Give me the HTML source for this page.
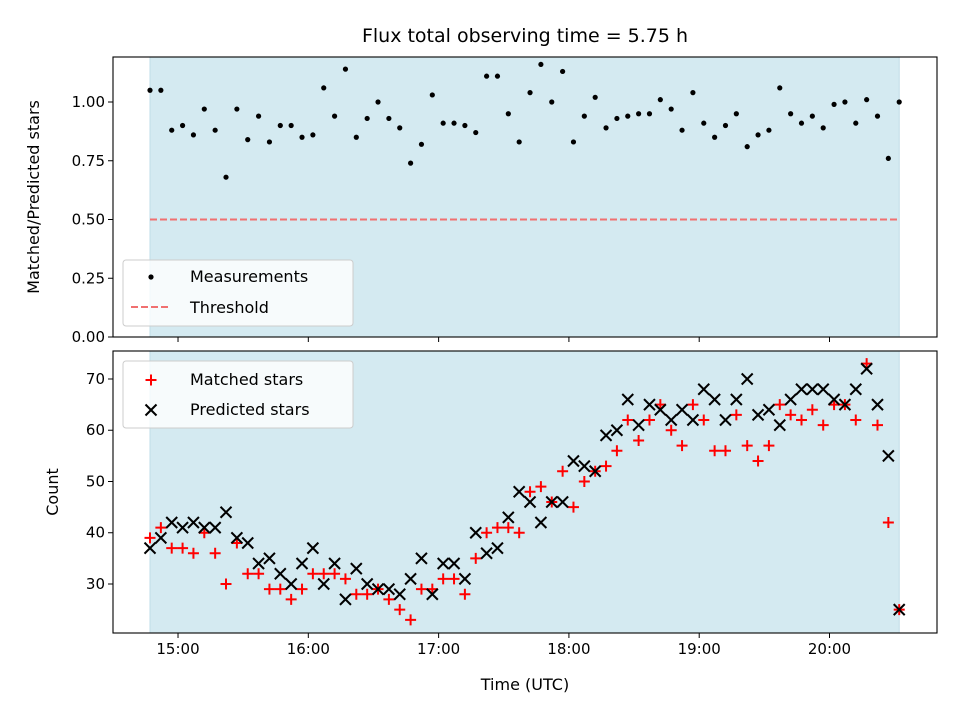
<!DOCTYPE html>
<html><head><meta charset="utf-8"><style>
body{margin:0;background:#fff}
svg{display:block;font-family:"DejaVu Sans","Liberation Sans",sans-serif}
</style></head><body>
<svg id="chart" width="960" height="720" viewBox="0 0 960 720"></svg>
<script>
const startHour = 14.785;
const stepHours = 5.75 / 69;
const ratioValues = [1.05,1.05,0.88,0.90,0.86,0.97,0.88,0.68,0.97,0.84,0.94,0.83,0.90,0.90,0.85,0.86,1.06,0.94,1.14,0.85,0.93,1.00,0.93,0.89,0.74,0.82,1.03,0.91,0.91,0.90,0.87,1.11,1.11,0.95,0.83,1.04,1.16,1.00,1.13,0.83,0.94,1.02,0.89,0.93,0.94,0.95,0.95,1.01,0.97,0.88,1.04,0.91,0.85,0.90,0.95,0.81,0.86,0.88,1.06,0.95,0.91,0.94,0.89,0.99,1.00,0.91,1.01,0.94,0.76,1.00];
const matchedValues = [39,41,37,37,36,40,36,30,38,32,32,29,29,27,29,32,32,32,31,28,28,29,27,25,23,29,29,31,31,28,35,40,41,41,40,48,49,46,52,45,50,52,53,56,62,58,62,65,60,57,65,62,56,56,63,57,54,57,65,63,62,64,61,65,65,62,73,61,42,25];
const predictedValues = [37,39,42,41,42,41,41,44,39,38,34,35,32,30,34,37,30,34,27,33,30,29,29,28,31,35,28,34,34,31,40,36,37,43,48,46,42,46,46,54,53,52,59,60,66,61,65,64,62,64,62,68,66,62,66,70,63,64,61,66,68,68,68,66,65,68,72,65,55,25];
const thresholdValue = 0.5;
const xTickLabels = ["15:00","16:00","17:00","18:00","19:00","20:00"];
const xTickHours = [15,16,17,18,19,20];
const topYTicks = [0,0.25,0.5,0.75,1.0];
const topYTickLabels = ["0.00","0.25","0.50","0.75","1.00"];
const botYTicks = [30,40,50,60,70];

const NS="http://www.w3.org/2000/svg";
const svg=document.getElementById('chart');
function mk(tag,attrs,parent){const e=document.createElementNS(NS,tag);for(const k in attrs)e.setAttribute(k,attrs[k]);(parent||svg).appendChild(e);return e;}
const L=113,R=937, TT=57,TB=337, BT=351,BB=633;
const xMin=14.501,xMax=20.825;
const x=h=>L+(h-xMin)/(xMax-xMin)*(R-L);
const yTop=v=>TB-(v-0)/(1.1915-0)*(TB-TT);
const yBot=v=>BB-(v-20.44)/(75.46-20.44)*(BB-BT);
const tHour=i=>startHour+i*stepHours;
const tEnd=startHour+69*stepHours;

let t=mk('text',{x:525,y:42,'text-anchor':'middle','font-size':'19'});t.textContent='Flux total observing time = 5.75 h';


function panel(top,bot,name){
  const g=mk('g',{});
  
  const s=mk('rect',{x:x(startHour),y:top,width:x(tEnd)-x(startHour),height:bot-top,fill:'#d4eaf1',stroke:'#bfdde8','stroke-width':1},g);
  
  return g;
}
const gTop=panel(TT,TB,'ratio-panel');
const gBot=panel(BT,BB,'count-panel');

const th=mk('line',{x1:x(startHour),x2:x(tEnd),y1:yTop(thresholdValue),y2:yTop(thresholdValue),stroke:'#f07070','stroke-width':2,'stroke-dasharray':'7,3'},gTop);

ratioValues.forEach((v,i)=>{const c=mk('circle',{cx:x(tHour(i)),cy:yTop(v),r:2.6,fill:'#000'},gTop);
});
function plus(cx,cy,p,name){const g=mk('g',{stroke:'#ff0000','stroke-width':2},p);

mk('line',{x1:cx-5.5,x2:cx+5.5,y1:cy,y2:cy},g);mk('line',{x1:cx,x2:cx,y1:cy-5.5,y2:cy+5.5},g);}
function cross(cx,cy,p,name){const g=mk('g',{stroke:'#000','stroke-width':2},p);

mk('line',{x1:cx-5.5,x2:cx+5.5,y1:cy-5.5,y2:cy+5.5},g);mk('line',{x1:cx-5.5,x2:cx+5.5,y1:cy+5.5,y2:cy-5.5},g);}
matchedValues.forEach((v,i)=>plus(x(tHour(i)),yBot(v),gBot,'matched-star-point'));
predictedValues.forEach((v,i)=>cross(x(tHour(i)),yBot(v),gBot,'predicted-star-point'));

[[TT,TB,'ratio-axes-frame'],[BT,BB,'count-axes-frame']].forEach(([a,b,n])=>{const r=mk('rect',{x:L,y:a,width:R-L,height:b-a,fill:'none',stroke:'#000','stroke-width':1.1});
});

xTickHours.forEach((h,i)=>{const px=x(h);
mk('line',{x1:px,x2:px,y1:TB,y2:TB+5,stroke:'#000'});
mk('line',{x1:px,x2:px,y1:BB,y2:BB+5,stroke:'#000'});
const tx=mk('text',{x:px,y:BB+21,'text-anchor':'middle','font-size':'15'});tx.textContent=xTickLabels[i];
});
topYTicks.forEach((v,i)=>{const py=yTop(v);mk('line',{x1:L-5,x2:L,y1:py,y2:py,stroke:'#000'});
const tx=mk('text',{x:L-8,y:py+5,'text-anchor':'end','font-size':'15'});tx.textContent=topYTickLabels[i];
});
botYTicks.forEach(v=>{const py=yBot(v);mk('line',{x1:L-5,x2:L,y1:py,y2:py,stroke:'#000'});
const tx=mk('text',{x:L-8,y:py+5,'text-anchor':'end','font-size':'15'});tx.textContent=String(v);
});

t=mk('text',{x:525,y:690,'text-anchor':'middle','font-size':'16'});t.textContent='Time (UTC)';

t=mk('text',{x:0,y:0,'text-anchor':'middle','font-size':'16',transform:'translate(39,197) rotate(-90)'});t.textContent='Matched/Predicted stars';

t=mk('text',{x:0,y:0,'text-anchor':'middle','font-size':'16',transform:'translate(58,492) rotate(-90)'});t.textContent='Count';


function legendBox(y0,h,name){const g=mk('g',{});
mk('rect',{x:123,y:y0,width:230,height:h,rx:3,fill:'rgba(255,255,255,0.8)',stroke:'#ccc'},g);return g;}
const lg1=legendBox(260,66,'ratio-legend');
mk('circle',{cx:151,cy:277,r:2.6,fill:'#000'},lg1);
t=mk('text',{x:190,y:282,'font-size':'16'},lg1);t.textContent='Measurements';

mk('line',{x1:131,x2:171,y1:307,y2:307,stroke:'#f07070','stroke-width':2,'stroke-dasharray':'7,3'},lg1);
t=mk('text',{x:190,y:313,'font-size':'16'},lg1);t.textContent='Threshold';

const lg2=legendBox(361,67,'count-legend');
plus(151,380,lg2,'legend-matched-marker');
t=mk('text',{x:190,y:385,'font-size':'16'},lg2);t.textContent='Matched stars';

cross(151,410,lg2,'legend-predicted-marker');
t=mk('text',{x:190,y:415,'font-size':'16'},lg2);t.textContent='Predicted stars';

</script>
</body></html>
